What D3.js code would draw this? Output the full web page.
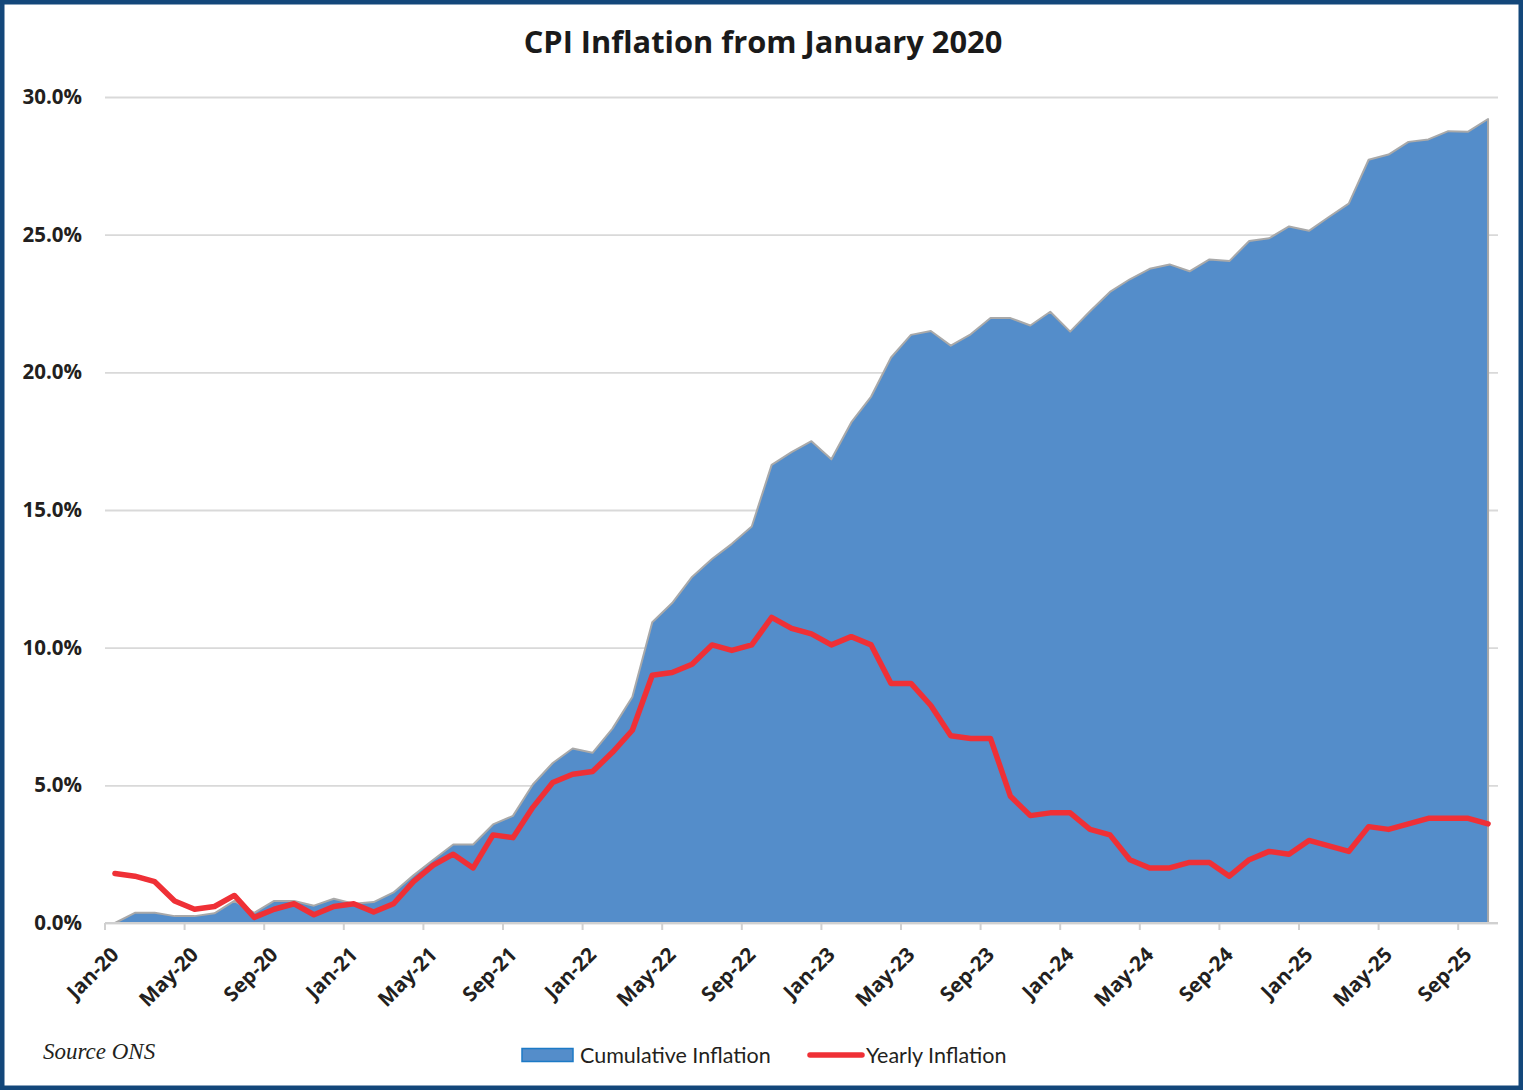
<!DOCTYPE html>
<html>
<head>
  <meta charset="utf-8">
  <title>CPI Inflation from January 2020</title>
  <script src="https://cdn.jsdelivr.net/npm/d3@7/dist/d3.min.js"></script>
  <style>
    body { margin: 0; background: #fff; }
    svg { display: block; }
  </style>
</head>
<body>
  <div id="chart"></div>
  <script>
    // months Jan-20 .. Oct-25
    const months = [
      "Jan-20","Feb-20","Mar-20","Apr-20","May-20","Jun-20","Jul-20","Aug-20","Sep-20","Oct-20","Nov-20","Dec-20",
      "Jan-21","Feb-21","Mar-21","Apr-21","May-21","Jun-21","Jul-21","Aug-21","Sep-21","Oct-21","Nov-21","Dec-21",
      "Jan-22","Feb-22","Mar-22","Apr-22","May-22","Jun-22","Jul-22","Aug-22","Sep-22","Oct-22","Nov-22","Dec-22",
      "Jan-23","Feb-23","Mar-23","Apr-23","May-23","Jun-23","Jul-23","Aug-23","Sep-23","Oct-23","Nov-23","Dec-23",
      "Jan-24","Feb-24","Mar-24","Apr-24","May-24","Jun-24","Jul-24","Aug-24","Sep-24","Oct-24","Nov-24","Dec-24",
      "Jan-25","Feb-25","Mar-25","Apr-25","May-25","Jun-25","Jul-25","Aug-25","Sep-25","Oct-25"
    ];

    // cumulative inflation since Jan 2020, %
    const cumulative = [
      0.00, 0.37, 0.37, 0.25, 0.25, 0.35, 0.80, 0.37, 0.80, 0.80, 0.63, 0.88,
      0.70, 0.76, 1.11, 1.73, 2.30, 2.85, 2.85, 3.58, 3.89, 5.03, 5.81, 6.34,
      6.18, 7.06, 8.21, 10.92, 11.62, 12.57, 13.22, 13.77, 14.40, 16.64, 17.10, 17.50,
      16.84, 18.18, 19.12, 20.54, 21.36, 21.50, 20.97, 21.38, 21.97, 21.97, 21.70, 22.20,
      21.48, 22.22, 22.92, 23.38, 23.76, 23.92, 23.67, 24.10, 24.04, 24.77, 24.87, 25.30,
      25.14, 25.64, 26.13, 27.72, 27.91, 28.37, 28.46, 28.76, 28.74, 29.20
    ];

    // yearly (12-month) CPI rate, %
    const yearly = [
      1.8, 1.7, 1.5, 0.8, 0.5, 0.6, 1.0, 0.2, 0.5, 0.7, 0.3, 0.6,
      0.7, 0.4, 0.7, 1.5, 2.1, 2.5, 2.0, 3.2, 3.1, 4.2, 5.1, 5.4,
      5.5, 6.2, 7.0, 9.0, 9.1, 9.4, 10.1, 9.9, 10.1, 11.1, 10.7, 10.5,
      10.1, 10.4, 10.1, 8.7, 8.7, 7.9, 6.8, 6.7, 6.7, 4.6, 3.9, 4.0,
      4.0, 3.4, 3.2, 2.3, 2.0, 2.0, 2.2, 2.2, 1.7, 2.3, 2.6, 2.5,
      3.0, 2.8, 2.6, 3.5, 3.4, 3.6, 3.8, 3.8, 3.8, 3.6
    ];

    const tickLabels = ["Jan-20","May-20","Sep-20","Jan-21","May-21","Sep-21","Jan-22","May-22","Sep-22",
      "Jan-23","May-23","Sep-23","Jan-24","May-24","Sep-24","Jan-25","May-25","Sep-25"];
    const yTicks = [0, 5, 10, 15, 20, 25, 30];

    const W = 1523, H = 1090;
    const plot = { left: 105, right: 1498, top: 97, bottom: 923 };

    const svg = d3.select("#chart").append("svg")
      .attr("width", W)
      .attr("height", H);

    // frame
    svg.append("rect")
      .attr("x", 2.25).attr("y", 2.25)
      .attr("width", W - 4.5).attr("height", H - 4.5)
      .attr("fill", "#fff")
      .attr("stroke", "#13477a")
      .attr("stroke-width", 4.5);

    const x = d3.scaleBand()
      .domain(months)
      .range([plot.left, plot.right])
      .paddingInner(0).paddingOuter(0);
    const cx = m => x(m) + x.bandwidth() / 2;

    const y = d3.scaleLinear()
      .domain([0, 30])
      .range([plot.bottom, plot.top]);

    // gridlines + y labels
    const yAxis = svg.append("g")
      .attr("transform", `translate(${plot.left},0)`)
      .call(d3.axisLeft(y)
        .tickValues(yTicks)
        .tickSize(-(plot.right - plot.left))
        .tickPadding(23)
        .tickFormat(d => d.toFixed(1) + "%"));
    yAxis.select(".domain").remove();
    yAxis.selectAll(".tick line")
      .attr("stroke", "#d9d9d9")
      .attr("stroke-width", 1.8);
    yAxis.selectAll(".tick text")
      .attr("fill", "#231f20")
      .style("font-family", "'Open Sans', sans-serif")
      .style("font-weight", 700)
      .style("font-size", "20.5px");

    const data = months.map((m, i) => ({ m: m, cum: cumulative[i], yr: yearly[i] }));

    // cumulative area
    const area = d3.area()
      .x(d => cx(d.m))
      .y0(y(0))
      .y1(d => y(d.cum));
    svg.append("path")
      .datum(data)
      .attr("d", area)
      .attr("fill", "#548dca")
      .attr("stroke", "#a9a9a9")
      .attr("stroke-width", 2)
      .attr("stroke-linejoin", "round");

    // x axis line
    svg.append("line")
      .attr("x1", plot.left).attr("x2", plot.right)
      .attr("y1", plot.bottom).attr("y2", plot.bottom)
      .attr("stroke", "#d0d0d0")
      .attr("stroke-width", 2);

    // tick marks at category boundaries
    svg.selectAll(".xtick")
      .data(tickLabels)
      .enter()
      .append("line")
      .attr("class", "xtick")
      .attr("x1", d => x(d)).attr("x2", d => x(d))
      .attr("y1", plot.bottom).attr("y2", plot.bottom + 7)
      .attr("stroke", "#d0d0d0")
      .attr("stroke-width", 2);

    // rotated x labels
    svg.selectAll(".xlabel")
      .data(tickLabels)
      .enter()
      .append("text")
      .attr("class", "xlabel")
      .attr("transform", d => `translate(${cx(d) + 5},${plot.bottom + 33}) rotate(-45)`)
      .attr("text-anchor", "end")
      .attr("fill", "#231f20")
      .style("font-family", "'Open Sans', sans-serif")
      .style("font-weight", 700)
      .style("font-size", "20.5px")
      .text(d => d);

    // yearly line
    const line = d3.line()
      .x(d => cx(d.m))
      .y(d => y(d.yr));
    svg.append("path")
      .datum(data)
      .attr("d", line)
      .attr("fill", "none")
      .attr("stroke", "#ef3036")
      .attr("stroke-width", 5.5)
      .attr("stroke-linejoin", "round")
      .attr("stroke-linecap", "round");

    // title
    svg.append("text")
      .attr("x", 763).attr("y", 53)
      .attr("text-anchor", "middle")
      .attr("fill", "#1a1a1a")
      .style("font-family", "'Open Sans', sans-serif")
      .style("font-weight", 700)
      .style("font-size", "30.8px")
      .text("CPI Inflation from January 2020");

    // source note
    svg.append("text")
      .attr("x", 43).attr("y", 1059)
      .attr("fill", "#231f20")
      .style("font-family", "'Liberation Serif', serif")
      .style("font-style", "italic")
      .style("font-size", "23px")
      .text("Source ONS");

    // legend
    const legend = svg.append("g");
    legend.append("rect")
      .attr("x", 522).attr("y", 1048.5)
      .attr("width", 51).attr("height", 13)
      .attr("fill", "#548dca")
      .attr("stroke", "#1c7ac6")
      .attr("stroke-width", 1.5);
    legend.append("text")
      .attr("x", 580).attr("y", 1063)
      .attr("fill", "#231f20")
      .style("font-family", "Lato, sans-serif")
      .style("font-size", "21.5px")
      .text("Cumulative Inflation");
    legend.append("line")
      .attr("x1", 810).attr("x2", 862)
      .attr("y1", 1055).attr("y2", 1055)
      .attr("stroke", "#ef3036")
      .attr("stroke-width", 5.5)
      .attr("stroke-linecap", "round");
    legend.append("text")
      .attr("x", 866).attr("y", 1063)
      .attr("fill", "#231f20")
      .style("font-family", "Lato, sans-serif")
      .style("font-size", "21.5px")
      .text("Yearly Inflation");
  </script>
</body>
</html>
